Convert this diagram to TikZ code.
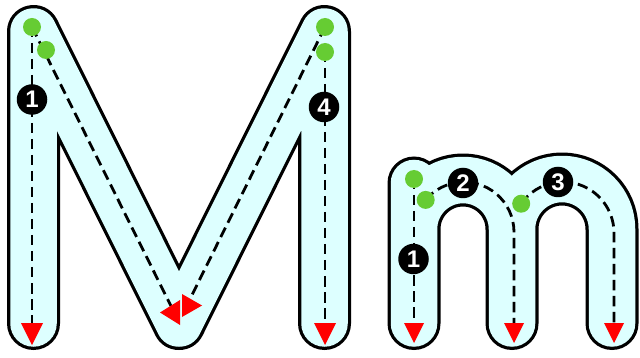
\documentclass[tikz,border=0pt]{standalone}
\usepackage{fontspec}
\setmainfont{Liberation Sans}
\definecolor{lettercyan}{HTML}{DDFFFF}
\definecolor{dotgreen}{HTML}{66CC33}
\definecolor{arrowred}{HTML}{FF0000}
\pgfdeclarelayer{letter}
\pgfdeclarelayer{guides}
\pgfsetlayers{letter,guides,main}
\begin{document}
\begin{tikzpicture}[x=1pt,y=-1pt,
  bodyout/.style={draw=black, line width=53pt, line join=round, line cap=round},
  bodyin/.style={draw=lettercyan, line width=46.5pt, line join=round, line cap=round},
  guide/.style={draw=black, line width=2.8pt, dash pattern=on 10.5pt off 5.5pt},
  startdot/.style={circle, fill=dotgreen, minimum size=18pt, inner sep=0pt},
  numlabel/.style={circle, fill=black, text=white, minimum size=30.5pt, inner sep=0pt,
    font=\fontsize{24}{24}\selectfont\bfseries},
  bigdown/.pic={\fill[arrowred] (-11,0) -- (11,0) -- (0,22) -- cycle;},
  smalldown/.pic={\fill[arrowred] (-10,0) -- (10,0) -- (0,20) -- cycle;},
  lefttri/.pic={\fill[arrowred] (0,-12.5) -- (0,12.5) -- (-20,0) -- cycle;},
  righttri/.pic={\fill[arrowred] (0,-11.5) -- (0,11.5) -- (20,0) -- cycle;},
]
\useasboundingbox (0,0) rectangle (640,358);

% ---------- letter bodies ----------
\coordinate (Ma) at (33.5,323.5);
\coordinate (Mb) at (33.5,31.5);
\coordinate (Mc) at (179,323.5);
\coordinate (Md) at (324.5,31.5);
\coordinate (Me) at (324.5,323.5);
\coordinate (ma) at (414,323.5);
\coordinate (mb) at (414,183);
\coordinate (mc) at (414,229);
\coordinate (md) at (512,229);
\coordinate (me) at (512,323.5);
\coordinate (mf) at (612,229);
\coordinate (mg) at (612,323.5);
\begin{pgfonlayer}{letter}
  \draw[bodyout] (Ma) -- (Mb) -- (Mc) -- (Md) -- (Me);
  \draw[bodyout] (ma) -- (mb) (mc) arc[start angle=180,end angle=0,radius=49pt] -- (me)
                 (md) arc[start angle=180,end angle=0,radius=50pt] -- (mg);
  \draw[bodyin] (Ma) -- (Mb) -- (Mc) -- (Md) -- (Me);
  \draw[bodyin] (ma) -- (mb) (mc) arc[start angle=180,end angle=0,radius=49pt] -- (me)
                (md) arc[start angle=180,end angle=0,radius=50pt] -- (mg);
\end{pgfonlayer}

% ---------- start dots ----------
\node[startdot] (g1) at (32,27) {};
\node[startdot] (g2) at (46,50) {};
\node[startdot] (g3) at (325,27) {};
\node[startdot] (g4) at (325,52) {};
\node[startdot] (s1) at (414,179) {};
\node[startdot] (s2) at (425.7,199.9) {};
\node[startdot] (s3) at (521.2,203.7) {};

% ---------- arrow ends ----------
\coordinate (e1) at (32,323);
\coordinate (e2) at (171,306);
\coordinate (e3) at (191,297);
\coordinate (e4) at (325,323);
\coordinate (f1) at (414,323);
\coordinate (f2) at (514,323);
\coordinate (f3) at (614,323);
\coordinate (tl) at (180,312.5);
\coordinate (tr) at (182,305.5);

% ---------- dashed guides ----------
\begin{pgfonlayer}{guides}
  \draw[guide] (g1.center) -- (e1);
  \draw[guide] (g1.center) -- (e2);
  \draw[guide] (g3.center) -- (e3);
  \draw[guide] (g4.center) -- (e4);
  \draw[guide] (s1.center) -- (f1);
  \draw[guide] (s2.center) arc[start angle=140,end angle=0,radius=50pt] -- (f2);
  \draw[guide] (s3.center) arc[start angle=145,end angle=0,radius=51pt] -- (f3);
\end{pgfonlayer}

% ---------- arrowheads ----------
\pic at (e1) {bigdown};
\pic at (e4) {bigdown};
\pic at (tl) {lefttri};
\pic at (tr) {righttri};
\pic at (f1) {smalldown};
\pic at (f2) {smalldown};
\pic at (f3) {smalldown};

% ---------- stroke numbers ----------
\node[numlabel] (n1) at (32,99.5) {1};
\node[numlabel] (n4) at (324,107) {4};
\node[numlabel] (k1) at (413.5,259) {1};
\node[numlabel] (k2) at (463,183) {2};
\node[numlabel] (k3) at (558,182) {3};
\end{tikzpicture}
\end{document}
